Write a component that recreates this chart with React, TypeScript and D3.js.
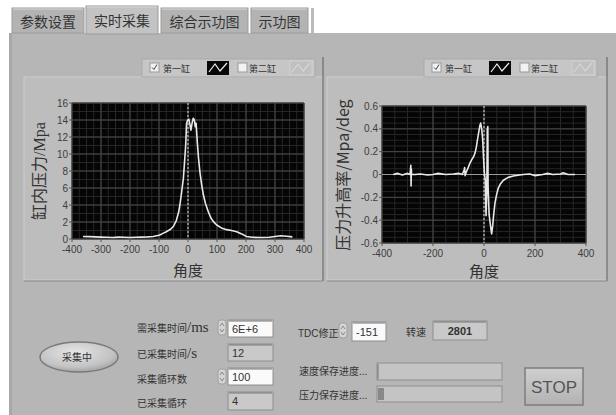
import React from "react";
import * as d3 from "d3";

// ---------- data ----------
const pAngles = [-362, -340, -320, -300, -280, -260, -240, -220, -200, -180, -160, -140, -120, -100, -90, -75, -60, -50, -40, -32, -28, -22, -16, -12, -8, -5, -2, 3, 7, 10, 14, 18, 22, 25, 28, 32, 36, 41, 47, 53, 60, 70, 80, 90, 99, 115, 133, 150, 168, 185, 202, 220, 250, 280, 300, 320, 340, 360];
const pValues = [0.3, 0.28, 0.25, 0.22, 0.2, 0.18, 0.22, 0.2, 0.18, 0.2, 0.22, 0.25, 0.3, 0.45, 0.6, 0.85, 1.15, 1.5, 2.2, 3.2, 4, 5.5, 7.1, 9, 11, 13.6, 13.9, 14.1, 13.4, 12.8, 13.6, 14.2, 14.0, 13.2, 13.6, 11.4, 9.6, 7.9, 6.4, 5.2, 4.2, 3.2, 2.4, 1.95, 1.65, 1.3, 1.1, 1.0, 0.86, 0.6, 0.3, 0.2, 0.18, 0.2, 0.3, 0.38, 0.32, 0.25];

const rAngles = [-356, -340, -320, -300, -290, -287, -286, -285, -284, -270, -250, -220, -200, -180, -150, -120, -100, -85, -78, -76, -74, -70, -62, -55, -48, -40, -35, -30, -26, -20, -16, -13, -9, -5, -2, 2, 5, 8, 11, 13, 15, 16, 20, 25, 30, 34, 38, 43, 50, 56, 65, 76, 95, 115, 140, 154, 180, 200, 230, 250, 270, 300, 310, 330, 357];
const rValues = [0.0, 0.01, -0.005, 0.01, 0.0, 0.08, -0.1, 0.05, 0.0, 0.0, 0.005, -0.005, 0.0, 0.01, 0.0, 0.005, 0.01, 0.0, 0.04, 0.06, -0.01, 0.02, 0.06, 0.1, 0.13, 0.16, 0.19, 0.24, 0.3, 0.38, 0.43, 0.45, 0.4, 0.3, 0.15, 0.0, -0.05, -0.36, -0.15, 0.4, 0.42, -0.1, -0.35, -0.44, -0.52, -0.45, -0.35, -0.25, -0.17, -0.12, -0.08, -0.05, -0.025, -0.013, -0.005, 0.0, 0.005, -0.01, 0.0, 0.01, 0.0, 0.005, 0.015, 0.0, 0.0];

const pXTicks = [-400, -300, -200, -100, 0, 100, 200, 300, 400];
const pYTicks = [0, 2, 4, 6, 8, 10, 12, 14, 16];
const rXTicks = [-400, -200, 0, 200, 400];
const rYTicks = [-0.6, -0.4, -0.2, 0, 0.2, 0.4, 0.6];

const tabs = ["参数设置", "实时采集", "综合示功图", "示功图"];

const CJK = "'Noto Sans CJK SC', 'Noto Sans', sans-serif";
const SANS = "'Liberation Sans', 'DejaVu Sans', sans-serif";
const SERIF = "'Liberation Serif', 'DejaVu Serif', serif";

type ChartProps = {
  x0: number; x1: number; y0: number; y1: number;
  xd: [number, number]; yd: [number, number];
  xt: number[]; yt: number[]; xMinor: number; yMinor: number;
  ax: number[]; av: number[];
  fmt: (v: number) => string;
  zeroLine?: boolean;
};

function Plot(p: ChartProps) {
  const xs = d3.scaleLinear().domain(p.xd).range([p.x0, p.x1]);
  const ys = d3.scaleLinear().domain(p.yd).range([p.y1, p.y0]);
  const minorX = d3.range(p.xd[0], p.xd[1] + 1e-9, p.xMinor);
  const minorY = d3.range(p.yd[0], p.yd[1] + 1e-9, p.yMinor);
  const pts: [number, number][] = p.ax.map((a, i) => [a, p.av[i]]);
  const line = d3.line<[number, number]>().x((d) => xs(d[0])).y((d) => ys(d[1]));
  return (
    <g>
      <rect x={p.x0} y={p.y0} width={p.x1 - p.x0} height={p.y1 - p.y0} fill="#050505" />
      {minorX.map((v, i) => (
        <line key={"mx" + i} x1={xs(v)} x2={xs(v)} y1={p.y0} y2={p.y1} stroke="#262626" strokeWidth={1} />
      ))}
      {minorY.map((v, i) => (
        <line key={"my" + i} x1={p.x0} x2={p.x1} y1={ys(v)} y2={ys(v)} stroke="#262626" strokeWidth={1} />
      ))}
      {p.xt.map((v, i) => (
        <line key={"gx" + i} x1={xs(v)} x2={xs(v)} y1={p.y0} y2={p.y1} stroke="#4a4a4a" strokeWidth={1} />
      ))}
      {p.yt.map((v, i) => (
        <line key={"gy" + i} x1={p.x0} x2={p.x1} y1={ys(v)} y2={ys(v)} stroke="#4a4a4a" strokeWidth={1} />
      ))}
      {p.zeroLine && (
        <line x1={p.x0} x2={p.x1} y1={ys(0)} y2={ys(0)} stroke="#9a9a9a" strokeWidth={1} />
      )}
      <line x1={xs(0)} x2={xs(0)} y1={p.y0} y2={p.y1} stroke="#d8d8d8" strokeWidth={1} strokeDasharray="2,2" />
      <path d={line(pts) || ""} fill="none" stroke="#e8e8e8" strokeWidth={1.6} strokeLinejoin="round" />
      {p.xt.map((v, i) => (
        <g key={"tx" + i}>
          <line x1={xs(v)} x2={xs(v)} y1={p.y1} y2={p.y1 + 3} stroke="#555" />
          <text x={xs(v)} y={p.y1 + 14} textAnchor="middle" fontSize={10} fill="#3c3c3c" fontFamily={SANS}>{p.fmt(v)}</text>
        </g>
      ))}
      {p.yt.map((v, i) => (
        <g key={"ty" + i}>
          <line x1={p.x0 - 3} x2={p.x0} y1={ys(v)} y2={ys(v)} stroke="#555" />
          <text x={p.x0 - 4} y={ys(v) + 3.5} textAnchor="end" fontSize={10} fill="#3c3c3c" fontFamily={SANS}>{p.fmt(v)}</text>
        </g>
      ))}
    </g>
  );
}

function Legend({ x, y }: { x: number; y: number }) {
  return (
    <g>
      <rect x={x} y={y} width={173} height={18} fill="#c6c6c6" stroke="#aaa" />
      <rect x={x + 8} y={y + 4} width={9} height={9} fill="#f2f2f2" stroke="#999" />
      <path d={`M${x + 10},${y + 8.5} l2,2 l3,-5`} fill="none" stroke="#444" strokeWidth={1} />
      <text x={x + 21} y={y + 12.5} fontSize={9} fill="#333" fontFamily={CJK}>第一缸</text>
      <rect x={x + 65} y={y + 2} width={22} height={14} fill="#080808" />
      <path d={`M${x + 67},${y + 13} L${x + 73},${y + 5} L${x + 78},${y + 12} L${x + 85},${y + 4}`} fill="none" stroke="#eee" strokeWidth={1.2} />
      <rect x={x + 96} y={y + 4} width={9} height={9} fill="#f2f2f2" stroke="#999" />
      <text x={x + 107} y={y + 12.5} fontSize={9} fill="#333" fontFamily={CJK}>第二缸</text>
      <rect x={x + 148} y={y + 2} width={22} height={14} fill="#c0c0c0" stroke="#d2d2d2" />
      <path d={`M${x + 150},${y + 13} L${x + 156},${y + 5} L${x + 161},${y + 12} L${x + 168},${y + 4}`} fill="none" stroke="#d6d6d6" strokeWidth={1.2} />
    </g>
  );
}

function Spinner({ x, y }: { x: number; y: number }) {
  return (
    <g>
      <rect x={x} y={y} width={8} height={15} rx={3} fill="#d4d4d4" stroke="#a0a0a0" />
      <path d={`M${x + 2},${y + 6} l2,-3 l2,3`} fill="none" stroke="#777" strokeWidth={0.8} />
      <path d={`M${x + 2},${y + 9} l2,3 l2,-3`} fill="none" stroke="#777" strokeWidth={0.8} />
    </g>
  );
}

function Box({ x, y, w, h, text, white, center, bold }: { x: number; y: number; w: number; h: number; text: string; white?: boolean; center?: boolean; bold?: boolean }) {
  return (
    <g>
      <rect x={x} y={y} width={w} height={h} fill={white ? "#fafafa" : "#c9c9c9"} stroke="#8e8e8e" strokeWidth={1} />
      <line x1={x + 1} x2={x + w - 1} y1={y + 1} y2={y + 1} stroke="#777" />
      <text x={center ? x + w / 2 : x + 4} y={y + h / 2 + 4} textAnchor={center ? "middle" : "start"} fontSize={11} fontWeight={bold ? "bold" : "normal"} fill="#333" fontFamily={SANS}>{text}</text>
    </g>
  );
}

export default function App() {
  const tabX = [12, 86, 161, 251];
  const tabW = [72, 72, 87, 57];
  return (
    <div style={{ position: "absolute", left: 0, top: 0 }}>
      <svg width={616} height={415} style={{ display: "block" }}>
        <defs>
          <radialGradient id="btn" cx="45%" cy="35%" r="70%">
            <stop offset="0%" stopColor="#e6e6e6" />
            <stop offset="70%" stopColor="#c2c2c2" />
            <stop offset="100%" stopColor="#9a9a9a" />
          </radialGradient>
          <linearGradient id="stop" x1="0" y1="0" x2="0" y2="1">
            <stop offset="0%" stopColor="#cfcfcf" />
            <stop offset="100%" stopColor="#b2b2b2" />
          </linearGradient>
        </defs>
        <rect x={0} y={0} width={616} height={415} fill="#ffffff" />
        {/* tab page */}
        <rect x={9} y={33} width={620} height={400} fill="#b6b6b6" />
        <rect x={9} y={33} width={3} height={400} fill="#a8a8a8" />
        {tabs.map((t, i) => (
          <g key={t}>
            <rect x={tabX[i]} y={i === 1 ? 6 : 8} width={tabW[i]} height={i === 1 ? 28 : 25}
              fill={i === 1 ? "#c3c3c3" : "#b3b3b3"} stroke="#9c9c9c" strokeWidth={1} />
            <line x1={tabX[i] + 1} x2={tabX[i] + tabW[i] - 1} y1={i === 1 ? 7 : 9} y2={i === 1 ? 7 : 9} stroke="#d8d8d8" />
            <text x={tabX[i] + tabW[i] / 2} y={i === 1 ? 26 : 27} textAnchor="middle" fontSize={14} fill="#333" fontFamily={CJK}>{t}</text>
          </g>
        ))}
        <rect x={311} y={8} width={3} height={25} fill="#bcbcbc" />

        {/* graph panels */}
        <rect x={24} y={77} width={299} height={203} fill="#bdbdbd" stroke="#cdcdcd" />
        <line x1={323} x2={323} y1={57} y2={281} stroke="#7a7a7a" strokeWidth={1.5} />
        <line x1={24} x2={323} y1={281} y2={281} stroke="#8a8a8a" />
        <rect x={327} y={77} width={280} height={203} fill="#bdbdbd" stroke="#cdcdcd" />
        <line x1={607} x2={607} y1={57} y2={281} stroke="#7a7a7a" strokeWidth={1.5} />
        <line x1={327} x2={607} y1={281} y2={281} stroke="#8a8a8a" />

        <Legend x={142} y={59} />
        <Legend x={424} y={59} />

        <Plot x0={72} x1={304} y0={103} y1={239} xd={[-400, 400]} yd={[0, 16]}
          xt={pXTicks} yt={pYTicks} xMinor={25} yMinor={1} ax={pAngles} av={pValues}
          fmt={(v) => String(v)} />
        <Plot x0={382} x1={586} y0={106} y1={243} xd={[-400, 400]} yd={[-0.6, 0.6]}
          xt={rXTicks} yt={rYTicks} xMinor={50} yMinor={0.05} ax={rAngles} av={rValues}
          fmt={(v) => (Math.abs(v) < 1e-9 ? "0" : String(Math.round(v * 10) / 10))} zeroLine />

        <text transform="translate(45,171) rotate(-90)" textAnchor="middle" fontSize={16} fill="#333">
          <tspan fontFamily={CJK}>缸内压力</tspan><tspan fontFamily={SERIF}>/Mpa</tspan>
        </text>
        <text x={188} y={276} textAnchor="middle" fontSize={15} fill="#333" fontFamily={CJK}>角度</text>
        <text transform="translate(349,175) rotate(-90)" textAnchor="middle" fontSize={16} fill="#333" fontFamily={CJK}>压力升高率/Mpa/deg</text>
        <text x={484} y={277} textAnchor="middle" fontSize={15} fill="#333" fontFamily={CJK}>角度</text>

        {/* bottom controls */}
        <ellipse cx={79} cy={357} rx={39} ry={15} fill="url(#btn)" stroke="#7a7a7a" strokeWidth={1.5} />
        <text x={77} y={361} textAnchor="middle" fontSize={10} fill="#333" fontFamily={CJK}>采集中</text>

        <text x={137} y={332} fontSize={10} fill="#333"><tspan fontFamily={CJK}>需采集时间</tspan><tspan fontFamily={SERIF} fontSize={15}>/ms</tspan></text>
        <text x={137} y={358} fontSize={10} fill="#333"><tspan fontFamily={CJK}>已采集时间</tspan><tspan fontFamily={SERIF} fontSize={15}>/s</tspan></text>
        <text x={137} y={383} fontSize={10} fill="#333" fontFamily={CJK}>采集循环数</text>
        <text x={137} y={407} fontSize={10} fill="#333" fontFamily={CJK}>已采集循环</text>
        <Spinner x={218} y={320} />
        <Box x={228} y={320} w={45} h={17} text="6E+6" white />
        <Box x={228} y={344} w={45} h={17} text="12" />
        <Spinner x={218} y={369} />
        <Box x={228} y={368} w={45} h={17} text="100" white />
        <Box x={228} y={392} w={45} h={18} text="4" />

        <text x={298} y={337} fontSize={10} fill="#333"><tspan fontFamily={SANS}>TDC</tspan><tspan fontFamily={CJK}>修正</tspan></text>
        <Spinner x={339} y={323} />
        <Box x={352} y={322} w={34} h={19} text="-151" white />
        <text x={406} y={336} fontSize={10} fill="#333" fontFamily={CJK}>转速</text>
        <Box x={433} y={321} w={54} h={19} text="2801" center bold />

        <text x={299} y={375} fontSize={10} fill="#333" fontFamily={CJK}>速度保存进度...</text>
        <rect x={377} y={363} width={125} height={17} fill="#c4c4c4" stroke="#8e8e8e" />
        <line x1={378} x2={378} y1={364} y2={379} stroke="#777" />
        <text x={299} y={399} fontSize={10} fill="#333" fontFamily={CJK}>压力保存进度...</text>
        <rect x={377} y={386} width={125} height={16} fill="#c4c4c4" stroke="#8e8e8e" />
        <rect x={378} y={388} width={6} height={12} fill="#888" />

        <rect x={525} y={368} width={58} height={37} fill="url(#stop)" stroke="#7e7e7e" strokeWidth={1.5} />
        <text x={554} y={393} textAnchor="middle" fontSize={17} fill="#555" fontFamily={SANS}>STOP</text>
      </svg>
    </div>
  );
}
